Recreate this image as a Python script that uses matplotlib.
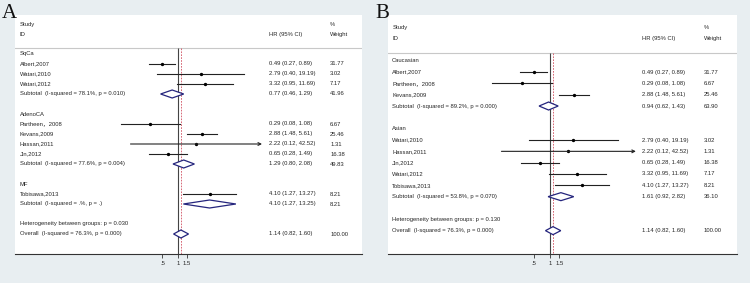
import numpy as np
import matplotlib
matplotlib.use("Agg")
import matplotlib.pyplot as plt
from matplotlib.patches import Polygon

# ---- panel A : by histology ----
a_groups = ["SqCa", "AdenoCA", "MF"]
a_studies = ["Albert,2007", "Watari,2010", "Watari,2012",
             "Partheen\uff0c2008", "Kevans,2009", "Hassan,2011", "Jin,2012",
             "Tobisawa,2013"]
a_group_of = [0, 0, 0, 1, 1, 1, 1, 2]
a_hr = [0.49, 2.79, 3.32, 0.29, 2.88, 2.22, 0.65, 4.10]
a_lo = [0.27, 0.40, 0.95, 0.08, 1.48, 0.12, 0.28, 1.27]
a_hi = [0.89, 19.19, 11.69, 1.08, 5.61, 42.52, 1.49, 13.27]
a_w = [31.77, 3.02, 7.17, 6.67, 25.46, 1.31, 16.38, 8.21]
a_sub_hr = [0.77, 1.29, 4.10]
a_sub_lo = [0.46, 0.80, 1.27]
a_sub_hi = [1.29, 2.08, 13.25]
a_sub_w = [41.96, 49.83, 8.21]
a_sub_i2 = ["78.1%", "77.6%", ".%"]
a_sub_p = ["0.010", "0.004", "."]
a_het_p = "0.030"

# ---- panel B : by ethnicity ----
b_groups = ["Caucasian", "Asian"]
b_studies = ["Albert,2007", "Partheen\uff0c2008", "Kevans,2009",
             "Watari,2010", "Hassan,2011", "Jin,2012", "Watari,2012",
             "Tobisawa,2013"]
b_group_of = [0, 0, 0, 1, 1, 1, 1, 1]
b_hr = [0.49, 0.29, 2.88, 2.79, 2.22, 0.65, 3.32, 4.10]
b_lo = [0.27, 0.08, 1.48, 0.40, 0.12, 0.28, 0.95, 1.27]
b_hi = [0.89, 1.08, 5.61, 19.19, 42.52, 1.49, 11.69, 13.27]
b_w = [31.77, 6.67, 25.46, 3.02, 1.31, 16.38, 7.17, 8.21]
b_sub_hr = [0.94, 1.61]
b_sub_lo = [0.62, 0.92]
b_sub_hi = [1.43, 2.82]
b_sub_w = [63.90, 36.10]
b_sub_i2 = ["89.2%", "53.8%"]
b_sub_p = ["0.000", "0.070"]
b_het_p = "0.130"

# overall (same in both panels)
ov_hr, ov_lo, ov_hi, ov_w = 1.14, 0.82, 1.60, 100.00
ov_i2, ov_p = "76.3%", "0.000"

tick_vals = [0.5, 1, 1.5]
tick_labels = [".5", "1", "1.5"]

W, H = 750, 283
BG = "#e8eef1"
TXT = "#262626"
NAVY = "#25257d"
FS = 4.2
plt.rcParams["font.family"] = ["Liberation Sans", "Noto Sans CJK SC"]


def build_rows(groups, studies, group_of, hr, lo, hi, w,
               s_hr, s_lo, s_hi, s_w, s_i2, s_p, het_p):
    rows = []
    for g, name in enumerate(groups):
        rows.append(("group", name))
        for i in range(len(studies)):
            if group_of[i] == g:
                rows.append(("study", studies[i], hr[i], lo[i], hi[i], w[i]))
        lab = "Subtotal  (I-squared = %s, p = %s)" % (s_i2[g], s_p[g])
        rows.append(("sub", lab, s_hr[g], s_lo[g], s_hi[g], s_w[g]))
        rows.append(("blank",))
    rows.append(("het", "Heterogeneity between groups: p = %s" % het_p))
    lab = "Overall  (I-squared = %s, p = %s)" % (ov_i2, ov_p)
    rows.append(("sub", lab, ov_hr, ov_lo, ov_hi, ov_w))
    return rows


def ci_text(h, l, u):
    return "%.2f (%.2f, %.2f)" % (h, l, u)


def draw_panel(fig, rows, left, right, one_px, scale, row0, step,
               study_px, id_px, line_px, col_lab, col_hr, col_w):
    top, axis_px = 15, 254
    ax = fig.add_axes([left / W, (H - axis_px) / H,
                       (right - left) / W, (axis_px - top) / H])
    ax.set_facecolor("white")
    ax.set_xscale("log")
    ax.set_xlim(np.exp((left - one_px) / scale), np.exp((right - one_px) / scale))
    ybot = (axis_px - row0) / step
    ax.set_ylim(ybot, (top - row0) / step)
    tr = ax.get_yaxis_transform()

    to_row = lambda px: (px - row0) / step
    hline = to_row(line_px)
    ax.text(col_lab, to_row(study_px), "Study", transform=tr, fontsize=FS, color=TXT, va="center")
    ax.text(col_lab, to_row(id_px), "ID", transform=tr, fontsize=FS, color=TXT, va="center")
    ax.text(col_hr, to_row(id_px), "HR (95% CI)", transform=tr, fontsize=FS, color=TXT, va="center")
    ax.text(col_w, to_row(study_px), "%", transform=tr, fontsize=FS, color=TXT, va="center")
    ax.text(col_w, to_row(id_px), "Weight", transform=tr, fontsize=FS, color=TXT, va="center")
    ax.axhline(hline, color="#c8c8c8", lw=0.8)

    ax.vlines(1, hline, ybot, color="#444444", lw=0.8)
    ax.vlines(ov_hr, hline, ybot, color="#d05060", lw=0.6, linestyles=(0, (2, 1.5)))

    dh = 4.0 / step
    for y, r in enumerate(rows):
        kind = r[0]
        if kind in ("group", "het"):
            ax.text(col_lab, y, r[1], transform=tr, fontsize=FS, color=TXT, va="center")
        elif kind == "study":
            _, name, h, l, u, wt = r
            if u > 40:
                ax.annotate("", xy=(u, y), xytext=(l, y),
                            arrowprops=dict(arrowstyle="->", color="#222222", lw=0.8,
                                            shrinkA=0, shrinkB=0, mutation_scale=5))
            else:
                ax.plot([l, u], [y, y], color="#222222", lw=0.8)
            ax.plot([h], [y], "o", color="black", ms=1.4)
            ax.text(col_lab, y, name, transform=tr, fontsize=FS, color=TXT, va="center")
            ax.text(col_hr, y, ci_text(h, l, u), transform=tr, fontsize=FS, color=TXT, va="center")
            ax.text(col_w, y, "%.2f" % wt, transform=tr, fontsize=FS, color=TXT, va="center")
        elif kind == "sub":
            _, name, h, l, u, wt = r
            poly = Polygon([(l, y), (h, y - dh), (u, y), (h, y + dh)], closed=True,
                           facecolor="white", edgecolor=NAVY, lw=0.9, zorder=3)
            ax.add_patch(poly)
            ax.text(col_lab, y, name, transform=tr, fontsize=FS, color=TXT, va="center")
            ax.text(col_hr, y, ci_text(h, l, u), transform=tr, fontsize=FS, color=TXT, va="center")
            ax.text(col_w, y, "%.2f" % wt, transform=tr, fontsize=FS, color=TXT, va="center")

    for s in ("top", "left", "right"):
        ax.spines[s].set_visible(False)
    ax.spines["bottom"].set_color("#333333")
    ax.spines["bottom"].set_linewidth(0.8)
    ax.set_yticks([])
    ax.set_xticks(tick_vals)
    ax.set_xticklabels(tick_labels)
    ax.xaxis.set_minor_locator(matplotlib.ticker.NullLocator())
    ax.tick_params(axis="x", length=3, width=0.6, color="#333333",
                   labelsize=FS, labelcolor=TXT, pad=2)
    return ax


rows_a = build_rows(a_groups, a_studies, a_group_of, a_hr, a_lo, a_hi, a_w,
                    a_sub_hr, a_sub_lo, a_sub_hi, a_sub_w, a_sub_i2, a_sub_p, a_het_p)
rows_b = build_rows(b_groups, b_studies, b_group_of, b_hr, b_lo, b_hi, b_w,
                    b_sub_hr, b_sub_lo, b_sub_hi, b_sub_w, b_sub_i2, b_sub_p, b_het_p)

fig = plt.figure(figsize=(W / 100, H / 100), dpi=100, facecolor=BG)

draw_panel(fig, rows_a, 15, 362, 178, 22.4, 54, 10.0,
           24.7, 34.3, 47.7, 0.014, 0.732, 0.908)
draw_panel(fig, rows_b, 388, 737, 550, 22.9, 60.7, 11.33,
           27.3, 38.7, 52.7, 0.012, 0.727, 0.905)

fig.text(2 / W, 1 - 4 / H, "A", family="Liberation Serif", fontsize=15, va="top", color="#111111")
fig.text(375 / W, 1 - 4 / H, "B", family="Liberation Serif", fontsize=15, va="top", color="#111111")

fig.savefig("out.png", dpi=100, facecolor=BG)
